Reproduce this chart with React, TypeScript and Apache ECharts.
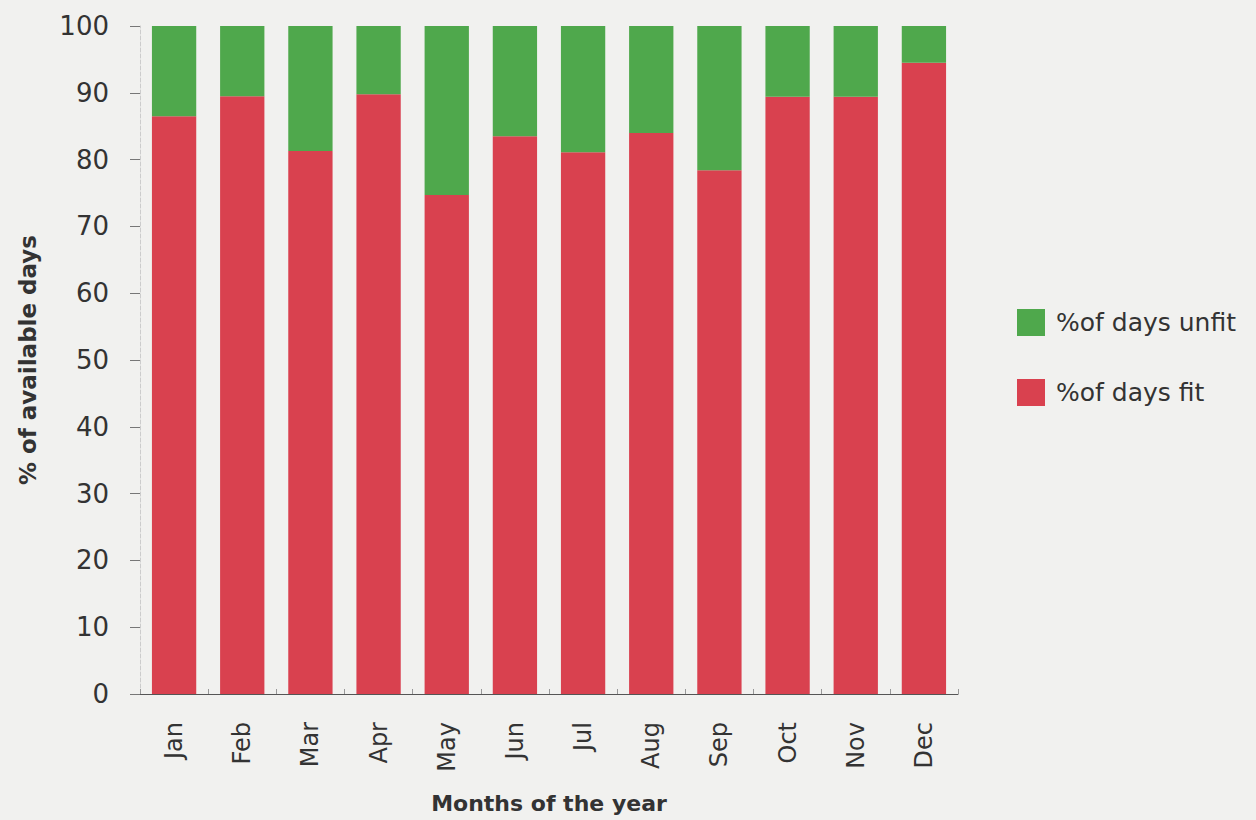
import React, { useEffect, useRef } from "react";
import * as echarts from "echarts";

const months = ["Jan", "Feb", "Mar", "Apr", "May", "Jun", "Jul", "Aug", "Sep", "Oct", "Nov", "Dec"];
const fitValues = [86.5, 89.5, 81.3, 89.8, 74.7, 83.5, 81.1, 84.0, 78.4, 89.4, 89.4, 94.5];
const unfitValues = [13.5, 10.5, 18.7, 10.2, 25.3, 16.5, 18.9, 16.0, 21.6, 10.6, 10.6, 5.5];
const seriesNames = ["%of days unfit", "%of days fit"];

export default function App() {
  const ref = useRef<HTMLDivElement>(null);
  useEffect(() => {
    const chart = echarts.init(ref.current!, null, { renderer: "svg" });
    const font = "DejaVu Sans, Verdana, sans-serif";
    chart.setOption({
      animation: false,
      backgroundColor: "#f1f1ef",
      grid: { left: 140, right: 298, top: 26, bottom: 126 },
      legend: {
        orient: "vertical",
        left: 1012,
        top: 304,
        itemWidth: 28,
        itemHeight: 27,
        itemGap: 43,
        icon: "rect",
        data: seriesNames,
        textStyle: { fontFamily: font, fontSize: 25, color: "#333", padding: [0, 0, 0, 6] },
      },
      xAxis: {
        type: "category",
        data: months,
        axisLine: { show: true, lineStyle: { color: "#555", width: 1 } },
        axisTick: { show: true, inside: true, length: 5, lineStyle: { color: "#999" } },
        axisLabel: { rotate: 90, margin: 28, fontFamily: font, fontSize: 24, color: "#333" },
        name: "Months of the year",
        nameLocation: "middle",
        nameGap: 98,
        nameTextStyle: { fontFamily: font, fontSize: 22, fontWeight: "bold", color: "#333" },
      },
      yAxis: {
        type: "value",
        min: 0,
        max: 100,
        interval: 10,
        splitLine: { show: false },
        axisLine: { show: true, lineStyle: { color: "#ccc", type: "dashed", width: 1 } },
        axisTick: { show: true, length: 10, lineStyle: { color: "#777" } },
        axisLabel: { margin: 31, fontFamily: font, fontSize: 26, color: "#333" },
        name: "% of available days",
        nameLocation: "middle",
        nameGap: 101,
        nameRotate: 90,
        nameTextStyle: { fontFamily: font, fontSize: 23, fontWeight: "bold", color: "#333" },
      },
      series: [
        {
          name: seriesNames[1],
          type: "bar",
          stack: "total",
          data: fitValues,
          barWidth: "65%",
          itemStyle: { color: "#d9414f" },
        },
        {
          name: seriesNames[0],
          type: "bar",
          stack: "total",
          data: unfitValues,
          barWidth: "65%",
          itemStyle: { color: "#4fa84c" },
        },
      ],
    });
    return () => chart.dispose();
  }, []);
  return <div ref={ref} style={{ position: "fixed", left: 0, top: 0, width: 1256, height: 820 }} />;
}
